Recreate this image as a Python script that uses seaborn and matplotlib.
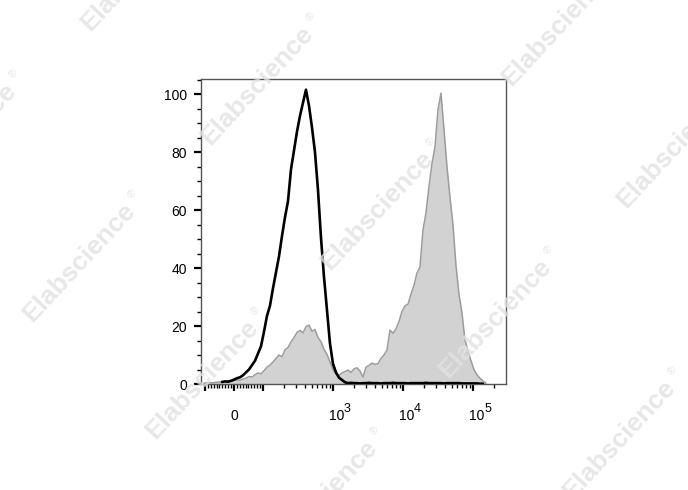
import numpy as np
import matplotlib
matplotlib.use("Agg")
import matplotlib.pyplot as plt
import seaborn as sns
from matplotlib.scale import SymmetricalLogTransform
from matplotlib.ticker import FixedLocator, MultipleLocator, NullFormatter

# ---------------- data ----------------
# histogram bins, positioned in decades on the biexponential display axis
LINTHRESH = 100
LINSCALE = 0.373
bin_decades = np.linspace(-0.4286, 3.6, 95)

control_counts = [np.nan, np.nan, np.nan, np.nan, np.nan, np.nan,
                  0.7, 0.9, 0.8, 1.1, 1.5, 2.0, 2.3, 3.0, 4.0, 5.0,
                  6.5, 8.0, 10.5, 13.0, 18.0, 23.5, 27.0, 33.0, 38.5, 44.0,
                  51.0, 57.5, 63.0, 74.0, 80.5, 87.0, 92.5, 97.0, 101.5, 96.0,
                  88.5, 80.0, 67.0, 50.5, 37.0, 25.5, 14.0, 7.0, 4.0, 2.2,
                  1.4, 0.6,
                  0.3, 0.4, 0.3, 0.3, 0.2, 0.3, 0.3, 0.4, 0.3, 0.3,
                  0.3, 0.2, 0.3, 0.3, 0.3, 0.4, 0.3, 0.3, 0.3, 0.3,
                  0.2, 0.3, 0.3, 0.3, 0.3, 0.3, 0.4, 0.3, 0.3, 0.3,
                  0.3, 0.3, 0.2, 0.3, 0.3, 0.3, 0.3, 0.3,
                  0.2, 0.2, 0.2, 0.2, 0.2, 0.2, 0.1, 0.1, np.nan]

stained_counts = [0.3, 0.4, 0.5, 0.4, 0.6, 0.7, 0.6, 0.8, 1.0, 0.9,
                  1.2, 1.4, 1.3, 1.7, 2.0, 2.6, 2.4, 3.2, 3.8, 3.5,
                  4.6, 5.8, 6.5, 7.6, 8.8, 10.0, 9.4, 11.8, 12.6, 14.5,
                  16.0, 17.8, 18.5, 17.6, 19.8, 20.3, 18.2, 18.8, 16.0, 14.6,
                  12.0, 10.2, 7.6, 5.0, 3.4, 3.0, 3.8, 4.3, 4.8, 4.0,
                  5.2, 5.6, 4.5, 2.4, 5.8, 6.4, 7.2, 6.8, 7.0, 8.8,
                  10.0, 11.7, 18.6, 17.5, 19.0, 21.5, 25.0, 27.0, 27.5, 31.0,
                  34.0, 38.3, 40.3, 53.0, 59.0, 68.0, 76.0, 81.7, 94.5, 100.3,
                  88.0, 75.0, 64.5, 55.0, 41.0, 31.0, 24.5, 15.2, 11.5, 8.0,
                  5.0, 3.2, 2.0, 1.0, 0.3]

y_ticks = [0, 20, 40, 60, 80, 100]
x_major_ticks = [-100, 0, 100, 1000, 10000, 100000]
x_label_values = [0, 1000, 10000, 100000]
x_label_bases = ["0", "10", "10", "10"]
x_label_exponents = ["", "3", "4", "5"]
x_minor_ticks = ([-90, -80, -70, -60, -50, -40, -30, -20, -10,
                  10, 20, 30, 40, 50, 60, 70, 80, 90]
                 + [m * 10 ** e for e in (2, 3, 4) for m in range(2, 10)]
                 + [200000])
watermark = "Elabscience"

# ---------------- style ----------------
sns.set_theme(style="ticks")
plt.rcParams["font.family"] = ["Liberation Sans", "DejaVu Sans"]

W, H = 688, 490
PX = 0.72  # points per pixel at dpi 100
fig = plt.figure(figsize=(W / 100, H / 100), dpi=100)
fig.patch.set_facecolor("white")
ax = fig.add_axes([201 / W, 1 - 384 / H, 305 / W, 305 / H])
ax.set_facecolor("white")

ax.set_xscale("symlog", linthresh=LINTHRESH, linscale=LINSCALE)
tr = SymmetricalLogTransform(10, LINTHRESH, LINSCALE)
x = tr.inverted().transform(bin_decades * LINTHRESH)

stained = np.array(stained_counts, dtype=float)
control = np.array(control_counts, dtype=float)

ax.fill_between(x, stained, 0, color="#d2d2d2", lw=0, zorder=1)
sns.lineplot(x=x, y=stained, color="#9c9c9c", lw=1.1, ax=ax, zorder=2)
sns.lineplot(x=x, y=control, color="black", lw=1.9, ax=ax, zorder=3)

ax.set_xlim(-114, 296500)
ax.set_ylim(0, 105.2)
ax.set_xlabel("")
ax.set_ylabel("")

ax.yaxis.set_major_locator(FixedLocator(y_ticks))
ax.yaxis.set_minor_locator(MultipleLocator(5))
ax.set_yticklabels([str(v) for v in y_ticks])
ax.xaxis.set_major_locator(FixedLocator(x_major_ticks))
ax.xaxis.set_major_formatter(NullFormatter())
ax.xaxis.set_minor_locator(FixedLocator(x_minor_ticks))
ax.xaxis.set_minor_formatter(NullFormatter())

ax.tick_params(axis="both", which="major", direction="out", length=5,
               width=1.6, color="black", labelsize=10, labelcolor="black")
ax.tick_params(axis="both", which="minor", direction="out", length=2.8,
               width=1.0, color="black")
ax.tick_params(axis="y", which="major", pad=5)

# x tick labels: "10" with a large raised exponent, as in the reference
for val, base, ex in zip(x_label_values, x_label_bases, x_label_exponents):
    dx = 0 if not ex else 3.5
    ax.annotate(base, xy=(val, 0), xycoords=("data", "axes fraction"),
                xytext=(dx * PX, -36 * PX), textcoords="offset points",
                ha="center", va="baseline", fontsize=10, color="black",
                annotation_clip=False)
    if ex:
        ax.annotate(ex, xy=(val, 0), xycoords=("data", "axes fraction"),
                    xytext=(14.5 * PX, -28.5 * PX), textcoords="offset points",
                    ha="center", va="baseline", fontsize=9, color="black",
                    annotation_clip=False)

for s in ax.spines.values():
    s.set_visible(True)
    s.set_color("#555555")
    s.set_linewidth(1.0)

# ---------------- watermarks ----------------
centers = [(137, -29), (-40, 142), (257, 85), (79, 262), (558, 26),
           (377, 210), (673, 148), (495, 318), (202, 379), (321, 499),
           (619, 439)]
ang = np.deg2rad(47)
for cx, cy in centers:
    fig.text(cx / W, 1 - cy / H, watermark, rotation=47, rotation_mode="anchor",
             ha="center", va="center", fontsize=19, fontweight="bold",
             color="#e2e2e2", alpha=0.8, zorder=20)
    rx = cx + 86 * np.cos(ang) - 7 * np.sin(ang)
    ry = cy - 86 * np.sin(ang) - 7 * np.cos(ang)
    fig.text(rx / W, 1 - ry / H, "\u00ae", rotation=47, rotation_mode="anchor",
             ha="center", va="center", fontsize=8,
             color="#e2e2e2", alpha=0.8, zorder=20)

fig.savefig("out.png", dpi=100, facecolor="white")
